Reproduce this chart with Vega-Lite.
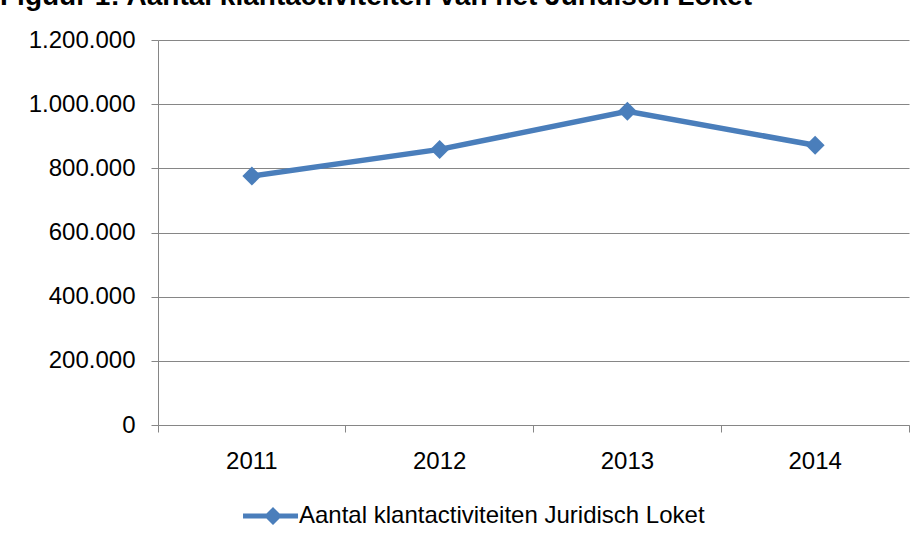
{
  "$schema": "https://vega.github.io/schema/vega-lite/v6.json",
  "width": 751,
  "height": 385,
  "autosize": {"type": "none"},
  "padding": {"left": 158, "top": 40, "right": 15, "bottom": 121},
  "background": "white",
  "title": {
    "text": "Figuur 1: Aantal klantactiviteiten van het Juridisch Loket",
    "font": "Liberation Sans",
    "fontSize": 28,
    "fontWeight": "bold",
    "color": "black",
    "anchor": "start",
    "frame": "group",
    "baseline": "alphabetic",
    "offset": 0,
    "dx": -158,
    "dy": 5
  },
  "data": {
    "values": [
      {"jaar": "2011", "aantal": 776000, "reeks": "Aantal klantactiviteiten Juridisch Loket"},
      {"jaar": "2012", "aantal": 859000, "reeks": "Aantal klantactiviteiten Juridisch Loket"},
      {"jaar": "2013", "aantal": 978000, "reeks": "Aantal klantactiviteiten Juridisch Loket"},
      {"jaar": "2014", "aantal": 872000, "reeks": "Aantal klantactiviteiten Juridisch Loket"}
    ]
  },
  "encoding": {
    "x": {
      "field": "jaar",
      "type": "ordinal",
      "scale": {"type": "band", "paddingInner": 0, "paddingOuter": 0},
      "axis": {
        "title": null,
        "bandPosition": 1,
        "tickExtra": true,
        "labelAngle": 0,
        "domainColor": "#868686",
        "tickColor": "#868686",
        "tickSize": 7,
        "labelFont": "Liberation Sans",
        "labelFontSize": 24,
        "labelColor": "black",
        "labelPadding": 17
      }
    },
    "y": {
      "field": "aantal",
      "type": "quantitative",
      "scale": {"domain": [0, 1200000]},
      "axis": {
        "title": null,
        "values": [0, 200000, 400000, 600000, 800000, 1000000, 1200000],
        "labelExpr": "replace(format(datum.value, ','), regexp(',', 'g'), '.')",
        "grid": true,
        "gridColor": "#868686",
        "gridOpacity": 1,
        "domainColor": "#868686",
        "tickColor": "#868686",
        "tickSize": 7,
        "labelFont": "Liberation Sans",
        "labelFontSize": 24,
        "labelColor": "black",
        "labelPadding": 16
      }
    }
  },
  "layer": [
    {
      "mark": {"type": "line", "color": "#4A7EBB", "strokeWidth": 5.5}
    },
    {
      "mark": {"type": "point", "shape": "diamond", "filled": true, "size": 360, "opacity": 1},
      "encoding": {
        "color": {
          "field": "reeks",
          "type": "nominal",
          "scale": {"range": ["#4A7EBB"]},
          "legend": {
            "title": null,
            "orient": "none",
            "legendX": 103,
            "legendY": 464,
            "padding": 0,
            "symbolType": "M-3.33,-0.28H2.78V0.28H-3.33Z M-1,0L0,-1L1,0L0,1Z",
            "symbolSize": 324,
            "symbolStrokeWidth": 0,
            "symbolFillColor": "#4A7EBB",
            "symbolOpacity": 1,
            "labelOffset": 14,
            "labelFont": "Liberation Sans",
            "labelFontSize": 24,
            "labelColor": "black",
            "labelLimit": 600
          }
        }
      }
    }
  ],
  "config": {"view": {"stroke": null}}
}
